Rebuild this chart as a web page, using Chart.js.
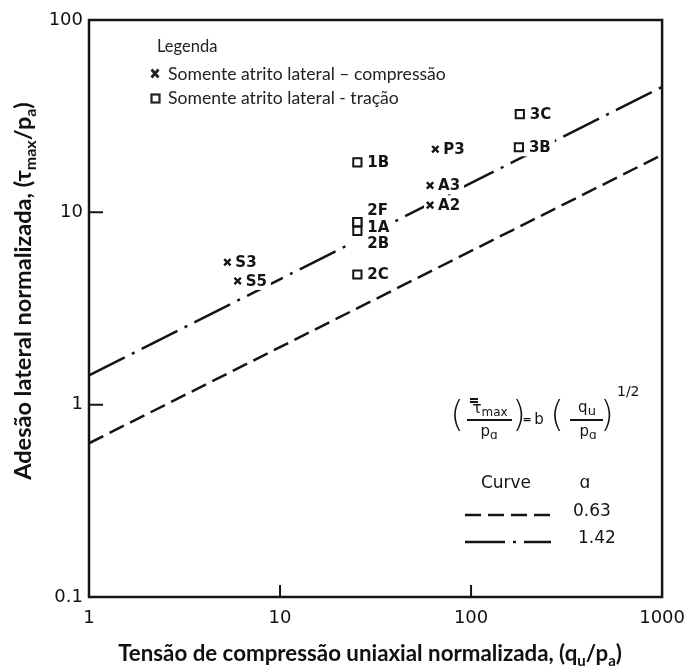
<!DOCTYPE html>
<html>
<head>
<meta charset="utf-8">
<script src="https://cdn.jsdelivr.net/npm/chart.js@4.4.0/dist/chart.umd.min.js"></script>
<style>
  body { margin: 0; background: #fff; }
  #wrap { width: 696px; height: 667px; position: relative; }
</style>
</head>
<body>
<div id="wrap"><canvas id="adhesionChart"></canvas></div>
<script>
// ── Axis ticks ─────────────────────────────────────────
var xTicks = [1, 10, 100, 1000];
var yTicks = [0.1, 1, 10, 100];

// ── Side friction only, compression tests (x markers) ──
var compLabels = ['S3', 'S5', 'P3', 'A3', 'A2'];
var compX      = [5.3, 6.0, 65, 61, 61];
var compY      = [5.5, 4.4, 21.3, 13.8, 10.9];

// ── Side friction only, uplift tests (square markers) ──
var tracLabels = ['1B', '2F', '1A', '2B', '2C', '3C', '3B'];
var tracX      = [25.4, 25.4, 25.4, 25.4, 25.4, 180, 178];
var tracY      = [18.2, 8.9, 8.9, 8.0, 4.75, 32.4, 21.8];

// ── Design curves tau/pa = b (qu/pa)^1/2 ──────────────
var curveB    = ['0.63', '1.42'];
var lineX     = [1, 1000];
var dashedY   = [0.63, 19.9];
var dashDotY  = [1.42, 44.9];

var INK = '#141414';
var DASHED = [16, 7];
var DASHDOT = [40, 8, 3, 8];

function pts(xs, ys) {
    return xs.map(function (x, i) { return { x: x, y: ys[i] }; });
}

// text with subscripts, drawn left to right from x (or centred on x)
function drawRich(ctx, parts, x, y, size, family, weight, centre, subScale) {
    var k = subScale || 0.68;
    function fontFor(p) { return weight + ' ' + (p.sub ? Math.round(size * k) : size) + 'px ' + family; }
    var total = 0;
    parts.forEach(function (p) { ctx.font = fontFor(p); total += ctx.measureText(p.t).width; });
    var cx = centre ? x - total / 2 : x;
    ctx.textAlign = 'left';
    ctx.textBaseline = 'alphabetic';
    parts.forEach(function (p) {
        ctx.font = fontFor(p);
        ctx.fillText(p.t, cx, p.sub ? y + size * 0.22 : y);
        cx += ctx.measureText(p.t).width;
    });
}

var labelFont = 'bold 15px "DejaVu Sans"';
var labelShift = { '2F': [10, -12], '1A': [10, 5], '2B': [10, 12] };

function eachLabel(chart, fn) {
    [0, 1].forEach(function (di) {
        var meta = chart.getDatasetMeta(di);
        var names = di === 0 ? compLabels : tracLabels;
        meta.data.forEach(function (el, i) {
            var s = labelShift[names[i]] || [di === 0 ? 8 : 10, 0];
            fn(names[i], el.x, el.y, s[0], s[1]);
        });
    });
}

var figurePlugin = {
    id: 'figure',
    beforeDraw: function (chart) {
        var ctx = chart.ctx;
        ctx.save();
        ctx.fillStyle = '#fff';
        ctx.fillRect(0, 0, chart.width, chart.height);
        ctx.restore();
    },
    // blank the dash-dot line behind the point labels
    afterDatasetDraw: function (chart, args) {
        if (args.index !== 3) return;
        var ctx = chart.ctx;
        ctx.save();
        ctx.font = labelFont;
        ctx.fillStyle = '#fff';
        eachLabel(chart, function (name, x, y, dx, dy) {
            var w = ctx.measureText(name).width;
            ctx.fillRect(x - 6, y + dy - 9, dx + w + 10, 18);
        });
        ctx.restore();
    },
    afterDatasetsDraw: function (chart) {
        var ctx = chart.ctx, a = chart.chartArea;
        var xs = chart.scales.x, ys = chart.scales.y;
        ctx.save();

        // point labels
        ctx.font = labelFont;
        ctx.fillStyle = INK;
        ctx.textBaseline = 'middle';
        ctx.textAlign = 'left';
        eachLabel(chart, function (name, x, y, dx, dy) {
            ctx.fillText(name, x + dx, y + dy + 1);
        });

        // frame + inward ticks
        ctx.strokeStyle = INK;
        ctx.lineWidth = 2.5;
        ctx.strokeRect(a.left, a.top, a.right - a.left, a.bottom - a.top);
        ctx.lineWidth = 2;
        ctx.beginPath();
        xTicks.slice(1, -1).forEach(function (v) {
            var px = xs.getPixelForValue(v);
            ctx.moveTo(px, a.bottom); ctx.lineTo(px, a.bottom - 12);
        });
        yTicks.slice(1, -1).forEach(function (v) {
            var py = ys.getPixelForValue(v);
            ctx.moveTo(a.left, py); ctx.lineTo(a.left + 14, py);
        });
        ctx.stroke();

        // legend box, top left
        ctx.fillStyle = '#222';
        ctx.textBaseline = 'middle';
        ctx.font = '16.5px Lato';
        ctx.fillText('Legenda', 157, 47);
        ctx.font = '17.6px Lato';
        ctx.fillText('Somente atrito lateral \u2013 compressão', 168, 74);
        ctx.fillText('Somente atrito lateral - tração', 168, 98);
        ctx.strokeStyle = '#222';
        ctx.lineWidth = 2.8;
        ctx.beginPath();
        ctx.moveTo(151.5, 69.5); ctx.lineTo(158.5, 77.5);
        ctx.moveTo(158.5, 69.5); ctx.lineTo(151.5, 77.5);
        ctx.stroke();
        ctx.lineWidth = 2.2;
        ctx.strokeRect(151.5, 94.5, 8, 8);

        // equation
        var eqFont = '"DejaVu Sans"';
        ctx.fillStyle = INK;
        ctx.strokeStyle = INK;
        ctx.textAlign = 'center';
        ctx.textBaseline = 'middle';
        ctx.font = '200 35px ' + eqFont;
        ctx.fillText('(', 457, 417);
        ctx.fillText(')', 519, 417);
        ctx.fillText('(', 557, 417);
        ctx.fillText(')', 607, 417);
        ctx.font = '15px ' + eqFont;
        ctx.fillText('b', 539, 420);
        ctx.font = 'bold 11px ' + eqFont;
        ctx.fillText('=', 527, 420);
        drawRich(ctx, [{ t: 'τ' }, { t: 'max', sub: true }], 490, 413, 15, eqFont, 'normal', true, 0.82);
        drawRich(ctx, [{ t: 'p' }, { t: 'ɑ', sub: true }], 489, 436, 15, eqFont, 'normal', true, 0.8);
        drawRich(ctx, [{ t: 'q' }, { t: 'u', sub: true }], 587, 412, 15, eqFont, 'normal', true, 0.85);
        drawRich(ctx, [{ t: 'p' }, { t: 'ɑ', sub: true }], 588, 436, 15, eqFont, 'normal', true, 0.8);
        ctx.lineWidth = 1.8;
        ctx.beginPath();
        ctx.moveTo(467, 420); ctx.lineTo(512, 420);
        ctx.moveTo(570, 420); ctx.lineTo(603, 420);
        ctx.moveTo(470, 399); ctx.lineTo(478, 399);
        ctx.moveTo(470, 402); ctx.lineTo(478, 402);
        ctx.stroke();
        ctx.textAlign = 'left';
        ctx.font = '14px ' + eqFont;
        ctx.fillText('1/2', 617, 396);

        // curve key
        ctx.font = '17px ' + eqFont;
        ctx.textAlign = 'center';
        ctx.fillText('Curve', 506, 488);
        ctx.fillText('ɑ', 585, 488);
        ctx.textAlign = 'left';
        ctx.fillText(curveB[0], 573, 516);
        ctx.fillText(curveB[1], 578, 543);
        ctx.lineWidth = 2.5;
        ctx.setLineDash(DASHED);
        ctx.beginPath(); ctx.moveTo(465, 515); ctx.lineTo(551, 515); ctx.stroke();
        ctx.setLineDash(DASHDOT);
        ctx.beginPath(); ctx.moveTo(465, 542); ctx.lineTo(551, 542); ctx.stroke();
        ctx.setLineDash([]);

        // axis titles
        ctx.fillStyle = '#111';
        drawRich(ctx, [
            { t: 'Tensão de compressão uniaxial normalizada, (q' }, { t: 'u', sub: true },
            { t: '/p' }, { t: 'a', sub: true }, { t: ')' }
        ], 370, 661, 22.3, 'Lato', 'bold', true);
        ctx.translate(31, 291);
        ctx.rotate(-Math.PI / 2);
        drawRich(ctx, [
            { t: 'Adesão lateral normalizada, (τ' }, { t: 'max', sub: true },
            { t: '/p' }, { t: 'a', sub: true }, { t: ')' }
        ], 0, 0, 23.5, 'Lato', 'bold', true);
        ctx.restore();
    }
};

var tickFont = { family: 'DejaVu Sans', size: 18 };

new Chart(document.getElementById('adhesionChart'), {
    type: 'scatter',
    data: {
        datasets: [
            { label: 'compressão', data: pts(compX, compY), order: 0,
              pointStyle: 'crossRot', pointRadius: 4.5, borderWidth: 2.4,
              borderColor: INK, backgroundColor: INK },
            { label: 'tração', data: pts(tracX, tracY), order: 0,
              pointStyle: 'rect', pointRadius: 5.8, borderWidth: 2,
              borderColor: INK, backgroundColor: '#fff' },
            { label: 'b = ' + curveB[0], data: pts(lineX, dashedY), order: 2,
              showLine: true, borderDash: DASHED, borderWidth: 2.5,
              borderColor: INK, pointRadius: 0, fill: false },
            { label: 'b = ' + curveB[1], data: pts(lineX, dashDotY), order: 1,
              showLine: true, borderDash: DASHDOT, borderWidth: 2.5,
              borderColor: INK, pointRadius: 0, fill: false }
        ]
    },
    options: {
        responsive: true,
        maintainAspectRatio: false,
        animation: false,
        layout: { padding: { top: 20, right: 25, left: 0, bottom: 0 } },
        plugins: { legend: { display: false }, tooltip: { enabled: false } },
        scales: {
            x: {
                type: 'logarithmic', min: 1, max: 1000,
                afterBuildTicks: function (s) { s.ticks = xTicks.map(function (v) { return { value: v }; }); },
                afterFit: function (s) { s.height = 70; },
                grid: { display: false, drawTicks: false },
                border: { display: false },
                ticks: { font: tickFont, color: '#111', padding: 11, maxRotation: 0, autoSkip: false,
                         callback: function (v) { return String(v); } }
            },
            y: {
                type: 'logarithmic', min: 0.1, max: 100,
                afterBuildTicks: function (s) { s.ticks = yTicks.map(function (v) { return { value: v }; }); },
                afterFit: function (s) { s.width = 89; },
                grid: { display: false, drawTicks: false },
                border: { display: false },
                ticks: { font: tickFont, color: '#111', padding: 6, autoSkip: false,
                         callback: function (v) { return String(v); } }
            }
        }
    },
    plugins: [figurePlugin]
});
</script>
</body>
</html>
